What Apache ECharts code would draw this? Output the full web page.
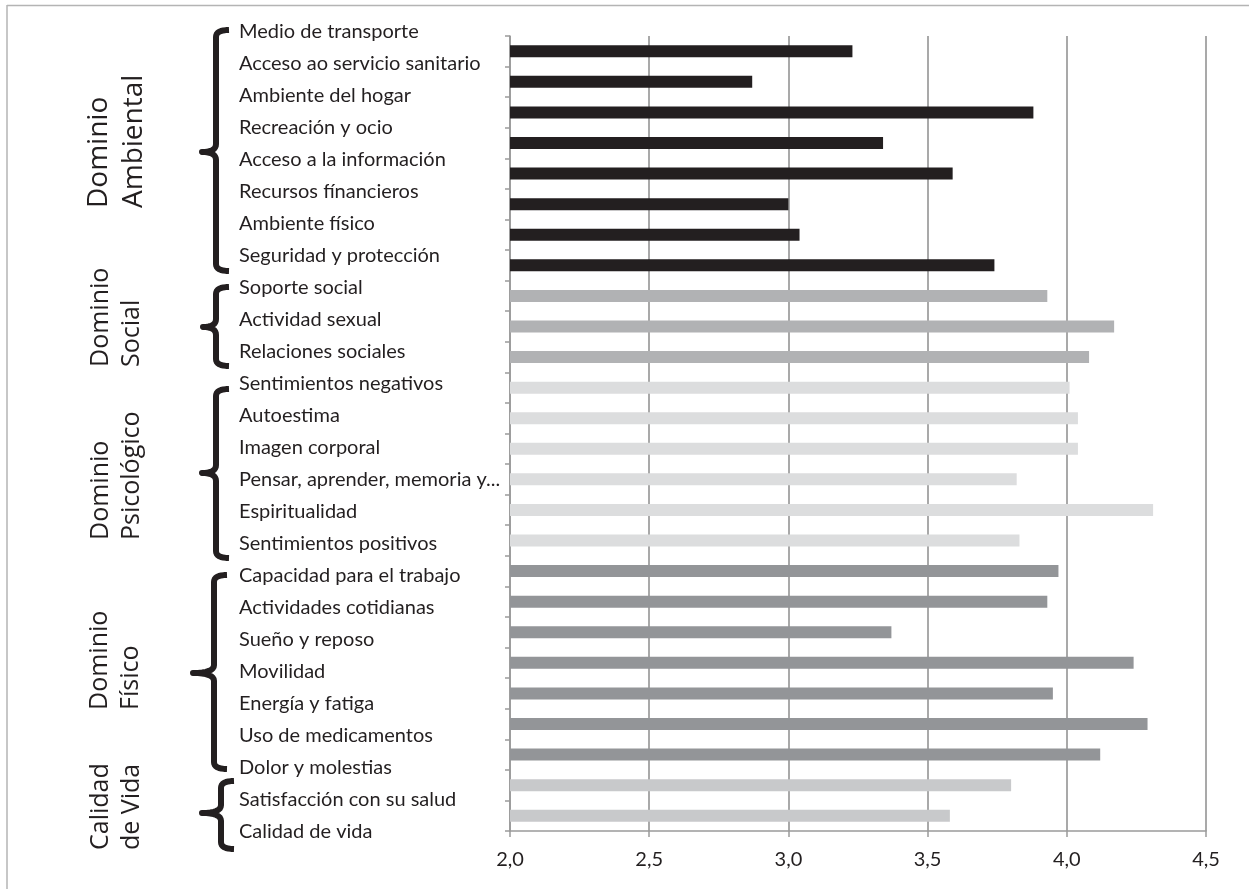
<!DOCTYPE html>
<html><head><meta charset="utf-8">
<script src="https://cdn.jsdelivr.net/npm/echarts@6/dist/echarts.min.js"></script>
<style>html,body{margin:0;padding:0;background:#fff}#c{width:1249px;height:889px}</style>
</head><body><div id="c"></div>
<script>
const categories = [
  'Medio de transporte','Acceso ao servicio sanitario','Ambiente del hogar','Recreación y ocio',
  'Acceso a la información','Recursos fínancieros','Ambiente físico','Seguridad y protección',
  'Soporte social','Actividad sexual','Relaciones sociales',
  'Sentimientos negativos','Autoestima','Imagen corporal','Pensar, aprender, memoria y...','Espiritualidad','Sentimientos positivos',
  'Capacidad para el trabajo','Actividades cotidianas','Sueño y reposo','Movilidad','Energía y fatiga','Uso de medicamentos','Dolor y molestias',
  'Satisfacción con su salud','Calidad de vida'
];
const values = [
  3.23, 2.87, 3.88, 3.34, 3.59, 3.00, 3.04, 3.74,
  3.93, 4.17, 4.08,
  4.01, 4.04, 4.04, 3.82, 4.31, 3.83,
  3.97, 3.93, 3.37, 4.24, 3.95, 4.29, 4.12,
  3.80, 3.58
];
const groupSizes = [8, 3, 6, 7, 2];
const groupTitles = [['Dominio','Ambiental'],['Dominio','Social'],['Dominio','Psicológico'],['Dominio','Físico'],['Calidad','de Vida']];
const groupColors = ['#231f20','#b1b2b4','#dcddde','#939598','#c8c9cb'];
const xMin = 2.0, xMax = 4.5, xStep = 0.5;

// decoration layout (braces and group titles), pixels
const braceLayout = [
  {top:30, bottom:271, tip:152, xv:216, tipX:202},
  {top:287, bottom:366, tip:327, xv:216, tipX:203},
  {top:389, bottom:558, tip:473, xv:216, tipX:202},
  {top:575, bottom:769, tip:673, xv:214, tipX:193},
  {top:781, bottom:849, tip:813, xv:221, tipX:202}
];
const titleLayout = [
  {x:117, bottom:208, size:28},
  {x:116, bottom:367, size:25},
  {x:116, bottom:540, size:25},
  {x:115, bottom:710, size:25},
  {x:116, bottom:850, size:25}
];

const itemGroup = [];
groupSizes.forEach((n, g) => { for (let i = 0; i < n; i++) itemGroup.push(g); });

const FONT = 'Open Sans';
const LFONT = 'Lato';
const INK = '#231f20';
const AX = '#9a9a9a';

const chart = echarts.init(document.getElementById('c'), null, {renderer: 'canvas'});

function quad(p0, p1, p2, n) {
  const out = [];
  for (let i = 1; i <= n; i++) {
    const t = i / n, u = 1 - t;
    out.push([u*u*p0[0] + 2*u*t*p1[0] + t*t*p2[0], u*u*p0[1] + 2*u*t*p1[1] + t*t*p2[1]]);
  }
  return out;
}
function bracePoints(b) {
  const h = 13;
  let pts = [[b.xv + h, b.top]];
  pts = pts.concat(quad([b.xv + h, b.top], [b.xv, b.top], [b.xv, b.top + 7], 8));
  pts.push([b.xv, b.tip - 8]);
  pts = pts.concat(quad([b.xv, b.tip - 8], [b.xv, b.tip], [b.tipX, b.tip], 8));
  pts = pts.concat(quad([b.tipX, b.tip], [b.xv, b.tip], [b.xv, b.tip + 8], 8));
  pts.push([b.xv, b.bottom - 7]);
  pts = pts.concat(quad([b.xv, b.bottom - 7], [b.xv, b.bottom], [b.xv + h, b.bottom], 8));
  return pts;
}

const graphics = [
  {type:'line', shape:{x1:7, y1:5.5, x2:1249, y2:5.5}, style:{stroke:'#b4b4b4', lineWidth:1.5}, silent:true},
  {type:'line', shape:{x1:7, y1:5, x2:7, y2:889}, style:{stroke:'#b4b4b4', lineWidth:1.5}, silent:true}
];
braceLayout.forEach(b => graphics.push({
  type:'polyline', shape:{points: bracePoints(b)},
  style:{stroke: INK, lineWidth: 6, fill: null, lineJoin: 'round'}, silent:true
}));
titleLayout.forEach((t, i) => graphics.push({
  type:'text', x: t.x, y: t.bottom, rotation: Math.PI / 2,
  style:{
    text: groupTitles[i].join('\n'), fontFamily: FONT, fontSize: t.size,
    lineHeight: Math.round(t.size * 1.25), fill: INK,
    align:'left', verticalAlign:'middle'
  }, silent:true
}));

const option = {
  backgroundColor: '#ffffff',
  animation: false,
  grid: [
    {left: 510, top: 36, width: 696, height: 795, containLabel: false},
    {left: 239, top: 16, width: 1, height: 832, containLabel: false}
  ],
  xAxis: [
    {
      type: 'value', gridIndex: 0, min: xMin, max: xMax, interval: xStep,
      axisLine: {show: true, lineStyle: {color: AX, width: 1.5}},
      axisTick: {show: true, length: 6, lineStyle: {color: AX, width: 1.5}},
      splitLine: {show: true, lineStyle: {color: '#8c8c8c', width: 1.5}},
      axisLabel: {
        margin: 19, fontFamily: LFONT, fontSize: 20, color: INK,
        formatter: v => v.toFixed(1).replace('.', ',')
      }
    },
    {type: 'value', gridIndex: 1, show: false, min: 0, max: 1}
  ],
  yAxis: [
    {
      type: 'category', gridIndex: 0, data: categories, inverse: true,
      axisLine: {show: true, lineStyle: {color: AX, width: 1.5}},
      axisTick: {show: true, length: 5, lineStyle: {color: AX, width: 1.5}},
      axisLabel: {show: false},
      splitLine: {show: false}
    },
    {
      type: 'category', gridIndex: 1, data: categories, inverse: true,
      axisLine: {show: false}, axisTick: {show: false}, splitLine: {show: false},
      axisLabel: {show: true, inside: true, margin: 0, fontFamily: LFONT, fontSize: 20, color: INK, interval: 0}
    }
  ],
  series: [
    {
      type: 'bar', xAxisIndex: 0, yAxisIndex: 0,
      data: values, barWidth: 12,
      itemStyle: {color: p => groupColors[itemGroup[p.dataIndex]]},
      silent: true
    },
    {type: 'bar', xAxisIndex: 1, yAxisIndex: 1, data: [], silent: true}
  ],
  graphic: graphics
};
chart.setOption(option);
</script>
</body></html>
